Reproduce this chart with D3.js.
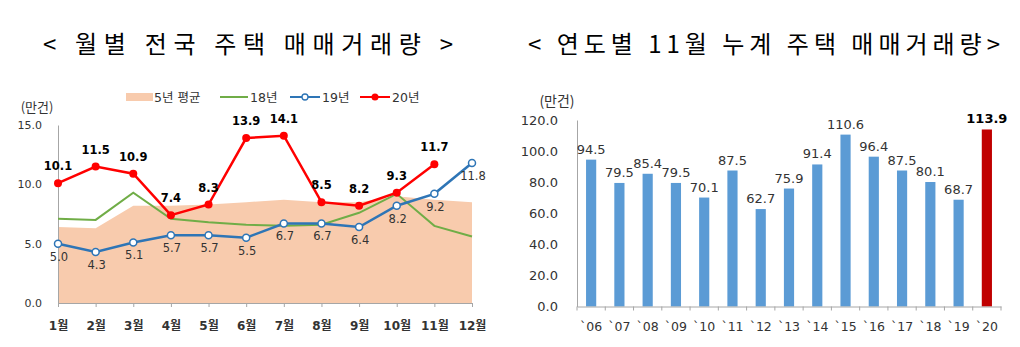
<!DOCTYPE html>
<html><head><meta charset="utf-8">
<script src="https://cdn.jsdelivr.net/npm/d3@7"></script>
<style>
html,body{margin:0;padding:0;background:#fff;}
svg{display:block;}
</style></head>
<body>
<svg id="chart" width="1020" height="347"></svg>
<script>
// ---- data ----
const months = ["1월","2월","3월","4월","5월","6월","7월","8월","9월","10월","11월","12월"];
const avg5 = [6.4, 6.3, 8.2, 8.2, 8.3, 8.5, 8.7, 8.5, 8.5, 9.0, 8.7, 8.5];
const y18  = [7.1, 7.0, 9.3, 7.1, 6.8, 6.6, 6.5, 6.6, 7.6, 9.2, 6.5, 5.6];
const y19  = [5.0, 4.3, 5.1, 5.7, 5.7, 5.5, 6.7, 6.7, 6.4, 8.2, 9.2, 11.8];
const y20  = [10.1, 11.5, 10.9, 7.4, 8.3, 13.9, 14.1, 8.5, 8.2, 9.3, 11.7];
const leftTicks = [0, 5, 10, 15];
const legendNames = ["5년 평균", "18년", "19년", "20년"];

const years = ["`06","`07","`08","`09","`10","`11","`12","`13","`14","`15","`16","`17","`18","`19","`20"];
const novCum = [94.5, 79.5, 85.4, 79.5, 70.1, 87.5, 62.7, 75.9, 91.4, 110.6, 96.4, 87.5, 80.1, 68.7, 113.9];
const rightTicks = [0, 20, 40, 60, 80, 100, 120];

const titleLeft = "< 월별 전국 주택 매매거래량 >";
const titleRight = "< 연도별 11월 누계 주택 매매거래량>";
const unitLabel = "(만건)";

// ---- styles ----
const NUM_FONT = "'DejaVu Sans','Noto Sans CJK KR',sans-serif";
const KR_FONT = "'Noto Sans CJK KR','DejaVu Sans',sans-serif";
const C_AREA = "#F8CBAD", C18 = "#70AD47", C19 = "#2E75B6", C20 = "#FF0000";
const C_BAR = "#5B9BD5", C_BAR_HI = "#C00000", C_AXIS = "#A6A6A6", C_TXT = "#333333";

const svg = d3.select("#chart");

// titles
svg.append("text").attr("x", 43).attr("y", 53)
  .attr("textLength", 410).attr("lengthAdjust", "spacing")
  .style("font-family", KR_FONT).style("font-size", "24px").attr("fill", "#000")
  .text(titleLeft);
svg.append("text").attr("x", 528).attr("y", 53)
  .attr("textLength", 472).attr("lengthAdjust", "spacing")
  .style("font-family", KR_FONT).style("font-size", "24px").attr("fill", "#000")
  .text(titleRight);

// ================= LEFT CHART =================
const x = d3.scalePoint().domain(months).range([58, 472]);
const y = d3.scaleLinear().domain([0, 15]).range([303, 125]);

// area (5yr avg)
const areaData = months.map((m, i) => ({m, v: avg5[i]}));
svg.append("path").datum(areaData)
  .attr("fill", C_AREA)
  .attr("d", d3.area().x(d => x(d.m)).y0(y(0)).y1(d => y(d.v)));

// axes
const gxL = svg.append("g").attr("transform", `translate(0,${y(0)})`)
  .call(d3.axisBottom(x).tickSize(4).tickSizeOuter(0));
gxL.select(".domain").attr("stroke", C_AXIS);
gxL.selectAll(".tick line").attr("stroke", C_AXIS);
gxL.selectAll(".tick text").attr("y", 27).attr("dy", null)
  .style("font-family", NUM_FONT).style("font-size", "12px").style("font-weight", "bold")
  .attr("fill", C_TXT);

const gyL = svg.append("g").attr("transform", `translate(${x(months[0])},0)`)
  .call(d3.axisLeft(y).tickValues(leftTicks).tickFormat(d3.format(".1f")).tickSize(0).tickPadding(16).tickSizeOuter(0));
gyL.select(".domain").attr("stroke", C_AXIS);
gyL.selectAll(".tick text").style("font-family", NUM_FONT).style("font-size", "11px").attr("fill", C_TXT);

svg.append("text").attr("x", 37).attr("y", 112).attr("text-anchor", "middle")
  .style("font-family", KR_FONT).style("font-size", "13px").attr("fill", C_TXT).text(unitLabel);

const line = d3.line().x(d => x(d.m)).y(d => y(d.v));
const d18 = months.map((m, i) => ({m, v: y18[i]}));
const d19 = months.map((m, i) => ({m, v: y19[i]}));
const d20 = y20.map((v, i) => ({m: months[i], v}));

svg.append("path").datum(d18).attr("fill", "none").attr("stroke", C18).attr("stroke-width", 2).attr("d", line);
svg.append("path").datum(d19).attr("fill", "none").attr("stroke", C19).attr("stroke-width", 2.5).attr("d", line);
svg.append("path").datum(d20).attr("fill", "none").attr("stroke", C20).attr("stroke-width", 2.5).attr("d", line);

svg.append("g").selectAll("circle").data(d19).join("circle")
  .attr("cx", d => x(d.m)).attr("cy", d => y(d.v)).attr("r", 3.5)
  .attr("fill", "#fff").attr("stroke", C19).attr("stroke-width", 1.5);
svg.append("g").selectAll("circle").data(d20).join("circle")
  .attr("cx", d => x(d.m)).attr("cy", d => y(d.v)).attr("r", 4)
  .attr("fill", C20);

svg.append("g").selectAll("text").data(d19).join("text")
  .attr("x", d => x(d.m) + 1).attr("y", d => y(d.v) + 17).attr("text-anchor", "middle")
  .style("font-family", NUM_FONT).style("font-size", "11.5px").attr("fill", C_TXT)
  .text(d => d3.format(".1f")(d.v));
svg.append("g").selectAll("text").data(d20).join("text")
  .attr("x", d => x(d.m)).attr("y", d => y(d.v) - 13).attr("text-anchor", "middle")
  .style("font-family", NUM_FONT).style("font-size", "11.5px").style("font-weight", "bold").attr("fill", "#000")
  .text(d => d3.format(".1f")(d.v));

// legend
const lg = svg.append("g");
lg.append("rect").attr("x", 126).attr("y", 93).attr("width", 27).attr("height", 8).attr("fill", C_AREA);
lg.append("line").attr("x1", 220).attr("x2", 248).attr("y1", 97).attr("y2", 97).attr("stroke", C18).attr("stroke-width", 2);
lg.append("line").attr("x1", 290).attr("x2", 320).attr("y1", 97).attr("y2", 97).attr("stroke", C19).attr("stroke-width", 2);
lg.append("circle").attr("cx", 305).attr("cy", 97).attr("r", 3).attr("fill", "#fff").attr("stroke", C19).attr("stroke-width", 1.3);
lg.append("line").attr("x1", 360).attr("x2", 390).attr("y1", 97).attr("y2", 97).attr("stroke", C20).attr("stroke-width", 2);
lg.append("circle").attr("cx", 375).attr("cy", 97).attr("r", 3.5).attr("fill", C20);
const legX = [154, 250, 322, 392];
lg.selectAll("text.lg").data(legendNames).join("text")
  .attr("x", (d, i) => legX[i]).attr("y", 102)
  .style("font-family", NUM_FONT).style("font-size", "12.5px").attr("fill", C_TXT)
  .text(d => d);

// ================= RIGHT CHART =================
const xb = d3.scaleBand().domain(years).range([577, 1001]).paddingInner(0.64).paddingOuter(0.32);
const yb = d3.scaleLinear().domain([0, 120]).range([306.5, 120]);

svg.append("g").selectAll("rect").data(years).join("rect")
  .attr("x", d => xb(d)).attr("width", xb.bandwidth())
  .attr("y", (d, i) => yb(novCum[i])).attr("height", (d, i) => yb(0) - yb(novCum[i]))
  .attr("fill", (d, i) => i === years.length - 1 ? C_BAR_HI : C_BAR);

const gxR = svg.append("g").attr("transform", `translate(0,${yb(0)})`)
  .call(d3.axisBottom(xb).tickSize(0).tickSizeOuter(0));
gxR.select(".domain").attr("stroke", C_AXIS);
gxR.selectAll(".tick text").attr("y", 24).attr("dy", null)
  .style("font-family", NUM_FONT).style("font-size", "12.5px").attr("fill", C_TXT);
// tick marks at band boundaries
gxR.append("g").selectAll("line").data(d3.range(years.length + 1)).join("line")
  .attr("x1", i => xb.range()[0] + i * xb.step()).attr("x2", i => xb.range()[0] + i * xb.step())
  .attr("y1", 0).attr("y2", 4).attr("stroke", C_AXIS);

const gyR = svg.append("g").attr("transform", `translate(577,0)`)
  .call(d3.axisLeft(yb).tickValues(rightTicks).tickFormat(d3.format(".1f")).tickSize(0).tickPadding(19).tickSizeOuter(0));
gyR.select(".domain").attr("stroke", C_AXIS);
gyR.selectAll(".tick text").style("font-family", NUM_FONT).style("font-size", "13px").attr("fill", C_TXT);

svg.append("text").attr("x", 557).attr("y", 106).attr("text-anchor", "middle")
  .style("font-family", KR_FONT).style("font-size", "14px").attr("fill", C_TXT).text(unitLabel);

svg.append("g").selectAll("text").data(years).join("text")
  .attr("x", d => xb(d) + xb.bandwidth() / 2)
  .attr("y", (d, i) => yb(novCum[i]) - 6).attr("text-anchor", "middle")
  .style("font-family", NUM_FONT).style("font-size", "13px")
  .style("font-weight", (d, i) => i === years.length - 1 ? "bold" : "normal")
  .attr("fill", (d, i) => i === years.length - 1 ? "#000" : C_TXT)
  .text((d, i) => d3.format(".1f")(novCum[i]));
</script>
</body></html>
